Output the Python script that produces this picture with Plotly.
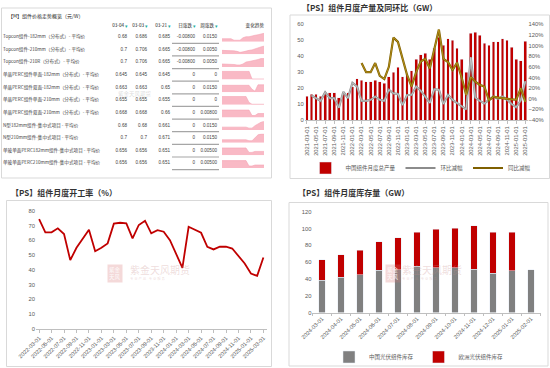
import plotly.graph_objects as go
import pandas as pd

W, H = 550, 368
def px(x): return x / W
def py(y): return 1 - y / H

# ---------------- DATA ----------------
# Panel 1: module monthly production (GW) with MoM / YoY (%)
prod_months = [d.strftime("%Y-%m-%d") for d in pd.date_range("2021-03-01", "2025-03-01", freq="MS")]
prod_total = [15, 16, 16, 15, 17, 17, 17, 14, 16, 17,
              21, 26, 25, 24, 24, 25, 24, 23, 27, 30,
              33, 27, 29, 31, 38, 41, 42, 38, 45, 52,
              47, 51, 50, 45, 38, 30, 54.5, 55, 53, 48,
              47, 49, 49, 51, 50, 45.5, 38, 37, 49.5]
prod_mom = [None, 6, 1, -4, 12, 1, 1, -17, 13, 1,
            30, 23, -4, -4, -2, 4, -2, -4, 17, 10,
            9, -12, 7, 7, 23, 15, 4, -8, 18, 17,
            -10, 7, -2, -8, -15, -20, 78, 2, -4, -9,
            -2, 4, 0, 4, -2, -10, -16, -3, 33]
prod_yoy = [None] * 12 + [67, 50, 50, 67, 43, 37, 60, 115, 107, 76,
                          45, 23, 50, 70, 75, 57, 94, 130, 75, 69,
                          54, 68, 40, 7, 41, 32, 26, 23, -3, 4,
                          2, 1, -1, -2, -2, 20, -6]

# Panel 2: monthly utilisation rate (%)
util_months = [d.strftime("%Y-%m-%d") for d in pd.date_range("2022-03-01", "2025-03-01", freq="MS")]
util_rate = [74.5, 65.5, 65.5, 68.2, 64.3, 46.6, 55, 60.9, 67.3, 52.7,
             55, 58, 71.4, 72, 71.6, 61.4, 70.5, 73.4, 64.8, 67,
             65.9, 60.2, 51.1, 41.4, 69.3, 67.5, 65.2, 55.7, 53.9, 55.7,
             55.7, 54.5, 49.5, 44.3, 37.5, 35.9, 48.4]

# Panel 3: monthly inventory (GW)
inv_months = ["2024-03-01", "2024-04-01", "2024-05-01", "2024-06-01", "2024-07-01", "2024-08-01",
              "2024-09-01", "2024-10-01", "2024-11-01", "2024-12-01", "2025-01-01", "2025-02-01"]
inv_china = [38.5, 42, 45, 50.5, 51, 55, 53.5, 53, 51.5, 46.5, 49.5, 51]
inv_europe = [24, 26.5, 29, 33.5, 38, 40.5, 45.5, 47.5, 51.5, 49, 46, None]

# Panel 4: price table
table_title = "【M】组件价格走势概览（元/W）"
table_headers = ["03-04", "03-03", "03-21", "日涨跌", "周涨跌"]
trend_header = "变化趋势"
row_names = [
    "Topcon组件-182mm（分布式）- 平均价",
    "Topcon组件-210mm（分布式）- 平均价",
    "Topcon组件-210R（分布式）- 平均价",
    "单晶PERC组件单面-182mm（分布式）- 平均价",
    "单晶PERC组件双面-182mm（分布式）- 平均价",
    "单晶PERC组件单面-210mm（分布式）- 平均价",
    "单晶PERC组件双面-210mm（分布式）- 平均价",
    "N型182mm组件-集中式项目 - 平均价",
    "N型210mm组件-集中式项目 - 平均价",
    "单玻单面PERC182mm组件-集中式项目 - 平均价",
    "单玻单面PERC210mm组件-集中式项目 - 平均价",
]
col_0304 = ["0.68", "0.7", "0.7", "0.645", "0.663", "0.655", "0.668", "0.68", "0.7", "0.656", "0.656"]
col_0303 = ["0.686", "0.706", "0.706", "0.645", "0.663", "0.655", "0.668", "0.68", "0.7", "0.656", "0.656"]
col_0321 = ["0.685", "0.665", "0.665", "0.645", "0.65", "0.655", "0.66", "0.661", "0.671", "0.651", "0.651"]
col_day = ["-0.00800", "-0.00800", "-0.00800", "0", "0", "0", "0", "0", "0", "0", "0"]
col_week = ["0.0150", "0.0050", "0.0050", "0", "0.0150", "0", "0.00800", "0.0150", "0.0150", "0.00500", "0.00500"]

spark_1 = [3, 3, 3, 3, 1.5, 1.5, 1.5, 4, 5, 5, 6, 6.5, 7, 8, 8.5]
spark_2 = [4, 4, 4, 4, 3.5, 3, 2, 2.5, 3.5, 4, 4.5, 5.5, 7, 8, 8.5]
spark_3 = [3, 3, 3, 3, 2.5, 2, 2, 3, 5, 5.5, 6, 6.5, 7.5, 8.5, 8.5]
spark_4 = [8.5, 8.5, 8.5, 8.5, 8.5, 8.5, 8.5, 8.5, 8.5, 8.5, 0.6, 0.6, 0.6, 0.6, 0.6]
spark_5 = [7, 7, 7, 7, 7, 7, 7, 7, 7, 7, 3, 1, 7.5, 7.5, 7.5]
spark_6 = [8.5, 8.5, 8.5, 8.5, 8.5, 8.5, 8.5, 8.5, 8.5, 2.5, 0.6, 0.6, 0.6, 0.6, 0.6]
spark_7 = [7.5, 7.5, 7.5, 7.5, 7.5, 7.5, 7.5, 7.5, 7.5, 7.5, 2, 2, 4, 4, 4]
spark_8 = [3, 3, 3, 3, 3, 3, 3, 3, 3, 2, 2, 4.5, 6.5, 8, 9]
spark_9 = [3, 3, 3, 3, 3, 3, 3, 3, 3, 2, 2, 5, 8, 9, 9]
spark_10 = [7.5, 7.5, 7.5, 7.5, 7.5, 7.5, 7.5, 7.5, 7.5, 3, 3, 4, 4, 4, 4]
spark_11 = [7.5, 7.5, 7.5, 7.5, 7.5, 7.5, 7.5, 7.5, 7.5, 2, 2, 3, 3, 3, 3]
sparks = [spark_1, spark_2, spark_3, spark_4, spark_5, spark_6,
          spark_7, spark_8, spark_9, spark_10, spark_11]

# ---------------- STYLE ----------------
RED = "#C00000"
GREY = "#8C8C8C"
BROWN = "#7F6000"
AXC = "#BFBFBF"
TXT = "#595959"
NUMF = "Liberation Sans, Noto Sans CJK SC"
CJK = "Noto Sans CJK SC"

fig = go.Figure()

# ---- production chart ----
fig.add_trace(go.Bar(x=prod_months, y=prod_total, name="中国组件月度总产量", marker_color=RED,
                     width=0.6, xaxis="x", yaxis="y", legend="legend"))
fig.add_trace(go.Scatter(x=prod_months, y=prod_mom, name="环比减幅", mode="lines",
                         line=dict(color=GREY, width=2.2), xaxis="x", yaxis="y2", legend="legend"))
fig.add_trace(go.Scatter(x=prod_months, y=prod_mom, mode="lines", showlegend=False,
                         line=dict(color="#DADADA", width=0.7), xaxis="x", yaxis="y2"))
fig.add_trace(go.Scatter(x=prod_months, y=prod_yoy, name="同比减幅", mode="lines",
                         line=dict(color=BROWN, width=2.2), xaxis="x", yaxis="y2", legend="legend"))
fig.add_trace(go.Scatter(x=prod_months, y=prod_yoy, mode="lines", showlegend=False,
                         line=dict(color="#C9A227", width=0.7), xaxis="x", yaxis="y2"))

# ---- utilisation chart ----
fig.add_trace(go.Scatter(x=util_months, y=util_rate, mode="lines", showlegend=False,
                         line=dict(color=RED, width=1.8), xaxis="x2", yaxis="y3"))

# ---- inventory chart ----
fig.add_trace(go.Bar(x=inv_months, y=inv_china, name="中国光伏组件库存", marker_color="#808080",
                     width=0.32, xaxis="x3", yaxis="y4", legend="legend2"))
fig.add_trace(go.Bar(x=inv_months, y=inv_europe, name="欧洲光伏组件库存", marker_color=RED,
                     width=0.32, xaxis="x3", yaxis="y4", legend="legend2"))

# ---- table ----
rows = list(range(len(row_names)))
col_x = [127, 147, 170, 195, 217]
tfont = dict(size=4.6, color="#404040", family=NUMF)
fig.add_trace(go.Scatter(x=[3] * len(rows), y=rows, text=row_names, mode="text",
                         textposition="middle right", textfont=dict(size=4.6, color="#404040", family=CJK),
                         xaxis="x4", yaxis="y5", showlegend=False, hoverinfo="skip"))
for cx, vals in zip(col_x, [col_0304, col_0303, col_0321, col_day, col_week]):
    fig.add_trace(go.Scatter(x=[cx] * len(rows), y=rows, text=vals, mode="text",
                             textposition="middle left", textfont=tfont,
                             xaxis="x4", yaxis="y5", showlegend=False, hoverinfo="skip"))
HDR_Y = -0.9
fig.add_trace(go.Scatter(x=[cx - 3 for cx in col_x] + [264], y=[HDR_Y] * 6,
                         text=table_headers + [trend_header], mode="text", textposition="middle left",
                         textfont=dict(size=4.6, color="#262626", family=CJK),
                         xaxis="x4", yaxis="y5", showlegend=False, hoverinfo="skip"))
fig.add_trace(go.Scatter(x=[cx + 0.5 for cx in col_x], y=[HDR_Y + 0.1] * 5,
                         text=["▾"] * 5, mode="text", textposition="middle left",
                         textfont=dict(size=5, color="#1AAE9F", family="DejaVu Sans"),
                         xaxis="x4", yaxis="y5", showlegend=False, hoverinfo="skip"))

# sparklines
ROW0, ROWSTEP = 37.0, 12.63
for i, s in enumerate(sparks):
    fig.add_trace(go.Scatter(x=list(range(len(s))), y=s, mode="lines", fill="tozeroy",
                             line=dict(color="#F5A3B3", width=0.6), fillcolor="#F9B9C5",
                             xaxis=f"x{5 + i}", yaxis=f"y{6 + i}", showlegend=False, hoverinfo="skip"))

layout = dict(
    width=W, height=H, autosize=False,
    margin=dict(l=0, r=0, t=0, b=0, pad=0, autoexpand=False),
    paper_bgcolor="white", plot_bgcolor="white",
    font=dict(family=CJK, size=6, color=TXT),
    barmode="stack", hovermode=False,
    legend=dict(x=px(421), y=py(168), xanchor="center", yanchor="middle", orientation="h",
                font=dict(size=5.5, color=TXT, family=CJK), itemwidth=30, bgcolor="rgba(0,0,0,0)",
                traceorder="normal"),
    legend2=dict(x=px(419), y=py(357), xanchor="center", yanchor="middle", orientation="h",
                 font=dict(size=5.5, color=TXT, family=CJK), itemwidth=30, bgcolor="rgba(0,0,0,0)",
                 traceorder="normal"),
    xaxis=dict(domain=[px(304.7), px(527.6)], anchor="y", type="category", range=[-0.5, 48.5],
               tickmode="array", tickvals=prod_months[::2], ticktext=prod_months[::2], tickangle=-90,
               tickfont=dict(size=5.8, family=NUMF, color=TXT), showline=True, linecolor=AXC,
               linewidth=0.8, ticks="outside", ticklen=3, tickcolor=AXC, showgrid=False,
               automargin=False),
    yaxis=dict(domain=[py(120), py(24.3)], anchor="x", range=[0, 60], dtick=10, showgrid=False,
               zeroline=False, showline=False, tickfont=dict(size=5.8, family=NUMF, color=TXT),
               automargin=False),
    yaxis2=dict(overlaying="y", side="right", anchor="x", range=[-40, 140], dtick=20, ticksuffix="%",
                showgrid=False, zeroline=False, showline=False,
                tickfont=dict(size=5.8, family=NUMF, color=TXT), automargin=False),
    xaxis2=dict(domain=[px(36), px(266.5)], anchor="y3", type="category", range=[-0.5, 36.5],
                tickmode="array", tickvals=util_months[::2], ticktext=util_months[::2], tickangle=-45,
                tickfont=dict(size=5.6, family=NUMF, color=TXT), showline=True, linecolor=AXC,
                linewidth=0.8, ticks="outside", ticklen=3, tickcolor=AXC, showgrid=False,
                automargin=False),
    yaxis3=dict(domain=[py(328.7), py(211)], anchor="x2", range=[0, 80], dtick=10, showgrid=False,
                zeroline=False, showline=False, tickfont=dict(size=5.8, family=NUMF, color=TXT),
                automargin=False),
    xaxis3=dict(domain=[px(312.5), px(540.5)], anchor="y4", type="category", range=[-0.5, 11.5],
                tickangle=-45, tickson="boundaries", tickfont=dict(size=5.6, family=NUMF, color=TXT),
                showline=True, linecolor=AXC, linewidth=0.8, ticks="outside", ticklen=3,
                tickcolor=AXC, showgrid=False, automargin=False),
    yaxis4=dict(domain=[py(312.5), py(211.7)], anchor="x3", range=[0, 120], dtick=20, showgrid=False,
                zeroline=False, showline=False, tickfont=dict(size=5.8, family=NUMF, color=TXT),
                automargin=False),
    xaxis4=dict(domain=[0, px(275)], anchor="y5", range=[0, 275], visible=False, automargin=False),
    yaxis5=dict(domain=[py(180), 1], anchor="x4",
                range=[-ROW0 / ROWSTEP + 180 / ROWSTEP, -ROW0 / ROWSTEP], visible=False,
                automargin=False),
)
for i, s in enumerate(sparks):
    yc = ROW0 + ROWSTEP * i
    layout[f"xaxis{5 + i}"] = dict(domain=[px(222), px(264)], anchor=f"y{6 + i}",
                                   range=[0, len(s) - 1], visible=False, automargin=False)
    layout[f"yaxis{6 + i}"] = dict(domain=[py(yc + 4.7), py(yc - 4.2)], anchor=f"x{5 + i}",
                                   range=[0, 9], visible=False, automargin=False)
fig.update_layout(**layout)

# panel frames
shapes = []
for (x0, y0, x1, y1) in [(1.5, 8, 271.5, 178), (290, 15, 549.5, 178.5),
                          (6.5, 200.5, 271.5, 366.5), (289, 202.5, 548, 366)]:
    shapes.append(dict(type="rect", xref="paper", yref="paper", x0=px(x0), x1=px(x1),
                       y0=py(y1), y1=py(y0), line=dict(color="#D9D9D9", width=1), layer="below"))
for i in rows:
    shapes.append(dict(type="line", xref="x4", yref="y5", x0=172, x1=219, y0=i + 0.5, y1=i + 0.5,
                       line=dict(color="#A6A6A6", width=1.2)))
fig.update_layout(shapes=shapes)

# titles and watermarks
ann = [
    dict(text=table_title, x=px(6), y=py(15.7), xanchor="left", yanchor="middle",
         font=dict(size=5, color="#262626", family=CJK)),
    dict(text="<b>【PS】组件月度产量及同环比（GW）</b>", x=px(300), y=py(7), xanchor="left",
         yanchor="middle", font=dict(size=8, color="#333333", family=CJK)),
    dict(text="<b>【PS】组件月度开工率（%）</b>", x=px(9), y=py(192.5), xanchor="left",
         yanchor="middle", font=dict(size=8, color="#333333", family=CJK)),
    dict(text="<b>【PS】组件月度库存量（GW）</b>", x=px(296), y=py(192), xanchor="left",
         yanchor="middle", font=dict(size=8, color="#333333", family=CJK)),
    dict(text="紫金天风期货", x=px(135), y=py(93.7), xanchor="center", yanchor="middle",
         font=dict(size=5.5, color="rgba(150,150,150,0.35)", family=CJK)),
]
for (lx, tx, ty) in [(115, 128, 272), (393, 400, 272)]:
    ann.append(dict(text="紫金<br>天风", x=px(lx), y=py(ty + 1), xanchor="center", yanchor="middle",
                    font=dict(size=5.5, color="rgba(255,255,255,0.9)", family=CJK),
                    bgcolor="rgba(214,120,120,0.28)", borderpad=1))
    ann.append(dict(text="紫金天风期货", x=px(tx), y=py(ty - 3), xanchor="left", yanchor="middle",
                    font=dict(size=10, color="rgba(200,140,140,0.30)", family=CJK)))
    ann.append(dict(text="专 业 产 品   专 业 服 务", x=px(tx), y=py(ty + 6), xanchor="left",
                    yanchor="middle", font=dict(size=3.5, color="rgba(200,140,140,0.30)", family=CJK)))
for a in ann:
    a.update(xref="paper", yref="paper", showarrow=False)
fig.update_layout(annotations=ann)

fig.write_html("out.html", config={"displayModeBar": False},
               post_script="document.body.style.margin='0px';")
